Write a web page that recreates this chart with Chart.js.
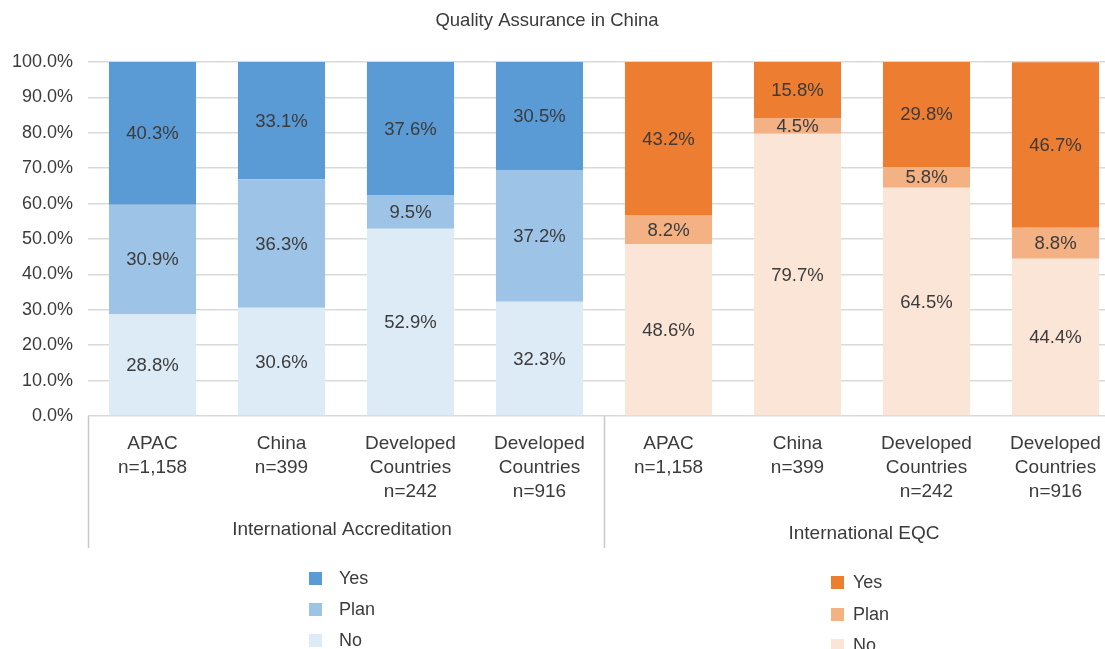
<!DOCTYPE html>
<html>
<head>
<meta charset="utf-8">
<title>Quality Assurance in China</title>
<script src="https://cdn.jsdelivr.net/npm/chart.js@4.4.1/dist/chart.umd.min.js"></script>
<style>
  html, body { margin: 0; padding: 0; background: #ffffff; overflow: hidden; }
  #wrap { width: 1120px; height: 649px; position: relative; }
</style>
</head>
<body>
<div id="wrap"><canvas id="chart"></canvas></div>
<script>
// Categories (label lines each) and their groups
const categoryLabels = [
  ['APAC', 'n=1,158'],
  ['China', 'n=399'],
  ['Developed', 'Countries', 'n=242'],
  ['Developed', 'Countries', 'n=916'],
  ['APAC', 'n=1,158'],
  ['China', 'n=399'],
  ['Developed', 'Countries', 'n=242'],
  ['Developed', 'Countries', 'n=916']
];
const groupLabels = ['International Accreditation', 'International EQC'];
const groupSize = 4;

// Shares (%) per answer, first four = accreditation, last four = EQC
const yesValues  = [40.3, 33.1, 37.6, 30.5, 43.2, 15.8, 29.8, 46.7];
const planValues = [30.9, 36.3, 9.5, 37.2, 8.2, 4.5, 5.8, 8.8];
const noValues   = [28.8, 30.6, 52.9, 32.3, 48.6, 79.7, 64.5, 44.4];

const yTicks = [0, 10, 20, 30, 40, 50, 60, 70, 80, 90, 100];

// Palettes: blue for accreditation, orange for EQC
const blue   = { yes: '#5B9BD5', plan: '#9DC3E6', no: '#DDEBF7' };
const orange = { yes: '#ED7D31', plan: '#F4B183', no: '#FBE5D6' };
const perBar = key => categoryLabels.map((_, i) => (i < groupSize ? blue : orange)[key]);

const FONT = '"Liberation Sans", Arial, Helvetica, sans-serif';
const TEXT = '#3b3b3b';
const LINE = '#c8c8c8';

// Segment value labels
const valueLabels = {
  id: 'valueLabels',
  afterDatasetsDraw(chart) {
    const ctx = chart.ctx;
    ctx.save();
    ctx.font = '18.5px ' + FONT;
    ctx.fillStyle = TEXT;
    ctx.textAlign = 'center';
    ctx.textBaseline = 'middle';
    chart.data.datasets.forEach((ds, di) => {
      chart.getDatasetMeta(di).data.forEach((bar, i) => {
        const v = ds.data[i];
        const y = (bar.y + bar.base) / 2;
        ctx.fillText(v.toFixed(1) + '%', bar.x, y + 1);
      });
    });
    ctx.restore();
  }
};

// Title, multi-level category axis and the two legends
const decorations = {
  id: 'decorations',
  afterDraw(chart) {
    const ctx = chart.ctx;
    const area = chart.chartArea;
    const x = chart.scales.x;
    ctx.save();

    // title
    ctx.font = '18.5px ' + FONT;
    ctx.fillStyle = TEXT;
    ctx.textAlign = 'center';
    ctx.textBaseline = 'middle';
    ctx.fillText('Quality Assurance in China', 547, 21);

    // category labels
    ctx.font = '19px ' + FONT;
    categoryLabels.forEach((lines, i) => {
      const cx = x.getPixelForValue(i);
      lines.forEach((t, k) => ctx.fillText(t, cx, area.bottom + 28 + k * 24));
    });

    // group separators
    const step = (area.right - area.left) / categoryLabels.length;
    ctx.strokeStyle = LINE;
    ctx.lineWidth = 1.5;
    for (let g = 0; g <= groupLabels.length; g++) {
      const gx = Math.round(area.left + g * groupSize * step) + 0.5;
      ctx.beginPath();
      ctx.moveTo(gx, area.bottom);
      ctx.lineTo(gx, area.bottom + 132);
      ctx.stroke();
    }

    // group labels
    const groupY = [area.bottom + 114, area.bottom + 118];
    groupLabels.forEach((t, g) => {
      const cx = area.left + (g + 0.5) * groupSize * step;
      ctx.fillText(t, g === 0 ? cx - 4 : cx + 2, groupY[g]);
    });

    // legends (Yes, Plan, No) for each palette
    ctx.font = '18px ' + FONT;
    const legendOrder = [2, 1, 0];
    const legends = [
      { colorIndex: 0, boxX: 309, textX: 339, y: [578, 609, 640] },
      { colorIndex: groupSize, boxX: 831, textX: 853, y: [582, 614, 645] }
    ];
    ctx.textAlign = 'left';
    legends.forEach(lg => {
      legendOrder.forEach((di, k) => {
        const ds = chart.data.datasets[di];
        ctx.fillStyle = ds.backgroundColor[lg.colorIndex];
        ctx.fillRect(lg.boxX, lg.y[k] - 6, 13, 13);
        ctx.fillStyle = TEXT;
        ctx.fillText(ds.label, lg.textX, lg.y[k] + 1);
      });
    });

    ctx.restore();
  }
};

new Chart(document.getElementById('chart'), {
  type: 'bar',
  data: {
    labels: categoryLabels.map(l => l.join(' ')),
    datasets: [
      { label: 'No',   data: noValues,   backgroundColor: perBar('no') },
      { label: 'Plan', data: planValues, backgroundColor: perBar('plan') },
      { label: 'Yes',  data: yesValues,  backgroundColor: perBar('yes') }
    ]
  },
  options: {
    responsive: true,
    maintainAspectRatio: false,
    animation: false,
    layout: { padding: { top: 62, bottom: 233, left: 0, right: 0 } },
    plugins: {
      legend: { display: false },
      title: { display: false },
      tooltip: { enabled: false }
    },
    datasets: {
      bar: { categoryPercentage: 1, barPercentage: 0.675, borderWidth: 0 }
    },
    scales: {
      x: { stacked: true, display: false },
      y: {
        stacked: true,
        min: 0,
        max: 100,
        afterFit(scale) { scale.width = 88; },
        afterBuildTicks(scale) { scale.ticks = yTicks.map(v => ({ value: v })); },
        border: { display: false },
        grid: { color: '#d9d9d9', lineWidth: 1.5, drawTicks: false },
        ticks: {
          padding: 15,
          color: TEXT,
          font: { family: FONT, size: 18 },
          callback: v => v.toFixed(1) + '%'
        }
      }
    }
  },
  plugins: [valueLabels, decorations]
});
</script>
</body>
</html>
